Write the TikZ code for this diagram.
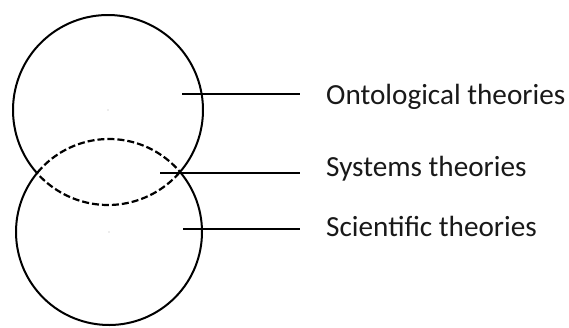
\documentclass[tikz,border=0pt]{standalone}
\usepackage{fontspec}
\setmainfont{Carlito}
\begin{document}
\begin{tikzpicture}[x=1pt,y=-1pt,
  ring/.style={line width=2pt},
  lens/.style={line width=2.2pt, dash pattern=on 7pt off 3pt},
  leader/.style={line width=1.6pt},
  lbl/.style={anchor=base west, inner sep=0pt, text=black!90, font=\fontsize{29.2}{34}\selectfont}]
\useasboundingbox (0,0) rectangle (569,327);
% upper circle A: centre (108,110), r 95 ; lower circle B: centre (109,232), r 93
\coordinate (A) at (108,110);
\coordinate (B) at (109,232);
\draw[ring] ([shift={(138.8:95)}]A) arc[start angle=138.8, end angle=401.2, radius=95];
\draw[lens] ([shift={(41.2:95)}]A) arc[start angle=41.2, end angle=138.8, radius=95];
\draw[ring] ([shift={(-39.75:93)}]B) arc[start angle=-39.75, end angle=219.75, radius=93];
\draw[lens] ([shift={(219.75:93)}]B) arc[start angle=219.75, end angle=320.25, radius=93];
\fill[gray!60] (A) circle (0.6);
\fill[gray!60] (B) circle (0.6);
% labels
\node[lbl] (ont) at (326,104) {Ontological theories};
\node[lbl] (sys) at (326,176) {Systems theories};
\node[lbl] (sci) at (326,236) {Scientific theories};
% leader lines
\coordinate (ontS) at (182,94);  \coordinate (ontE) at (300,94);
\coordinate (sysS) at (160,173); \coordinate (sysE) at (300,173);
\coordinate (sciS) at (183,229); \coordinate (sciE) at (300,229);
\draw[leader] (ontS) -- (ontE);
\draw[leader] (sysS) -- (sysE);
\draw[leader] (sciS) -- (sciE);
\end{tikzpicture}
\end{document}
